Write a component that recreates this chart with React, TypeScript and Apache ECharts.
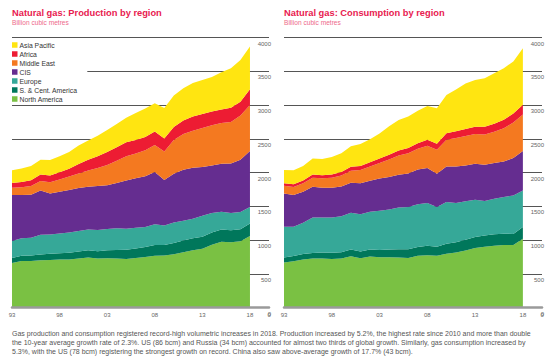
import React, { useEffect, useRef } from "react";
import * as echarts from "echarts";

const years = [1993, 1994, 1995, 1996, 1997, 1998, 1999, 2000, 2001, 2002, 2003, 2004, 2005, 2006, 2007, 2008, 2009, 2010, 2011, 2012, 2013, 2014, 2015, 2016, 2017, 2018];
// two empty slots after 2018 so that the gridlines run on under the value labels
const paddingSlots = ["", ""];

const regions = ["North America", "S. & Cent. America", "Europe", "CIS", "Middle East", "Africa", "Asia Pacific"];
const legendOrder = ["Asia Pacific", "Africa", "Middle East", "CIS", "Europe", "S. & Cent. America", "North America"];
const regionColors = ["#7AC143", "#00775B", "#36A898", "#652D90", "#F47920", "#ED1C33", "#FFE511"];

// Production (billion cubic metres)
const prodNorthAmerica = [660, 690, 690, 700, 705, 710, 710, 725, 740, 725, 730, 725, 720, 735, 750, 765, 770, 790, 820, 848, 870, 930, 975, 965, 980, 1058];
const prodSCAmerica = [75, 78, 80, 86, 90, 95, 100, 105, 107, 110, 118, 128, 135, 140, 148, 160, 155, 165, 172, 178, 180, 180, 182, 180, 180, 185];
const prodEurope = [250, 258, 265, 290, 285, 290, 300, 305, 310, 312, 315, 320, 312, 305, 295, 310, 290, 305, 295, 290, 310, 290, 260, 255, 255, 247];
const prodCIS = [680, 640, 635, 659, 610, 620, 630, 635, 633, 653, 649, 672, 713, 735, 752, 771, 675, 720, 753, 754, 722, 705, 711, 732, 775, 828];
const prodMiddleEast = [110, 115, 130, 140, 165, 180, 200, 215, 240, 265, 300, 330, 360, 365, 385, 400, 420, 500, 530, 550, 578, 595, 607, 618, 655, 682];
const prodAfrica = [71, 80, 85, 95, 100, 110, 115, 140, 160, 175, 190, 200, 210, 200, 195, 200, 195, 195, 200, 210, 205, 205, 200, 210, 205, 235];
const prodAsiaPacific = [189, 200, 210, 220, 230, 235, 250, 275, 285, 305, 328, 345, 360, 400, 425, 420, 450, 465, 480, 495, 505, 510, 550, 585, 618, 631];

// Consumption (billion cubic metres)
const consNorthAmerica = [666, 686, 711, 725, 725, 718, 725, 760, 730, 755, 745, 745, 740, 735, 765, 775, 765, 795, 815, 845, 880, 900, 915, 925, 925, 1020];
const consSCAmerica = [75, 77, 80, 84, 88, 92, 95, 98, 100, 104, 108, 115, 122, 128, 133, 138, 135, 148, 150, 160, 165, 168, 170, 168, 165, 172];
const consEurope = [454, 432, 463, 524, 520, 523, 533, 544, 552, 558, 579, 592, 619, 626, 630, 635, 589, 620, 583, 568, 552, 510, 527, 544, 571, 543];
const consCIS = [495, 470, 460, 456, 440, 440, 440, 445, 460, 462, 478, 480, 485, 495, 515, 518, 493, 527, 542, 532, 533, 537, 528, 527, 553, 582];
const consMiddleEast = [113, 120, 125, 135, 140, 148, 163, 180, 195, 209, 230, 260, 285, 300, 310, 330, 355, 395, 420, 435, 440, 449, 465, 493, 525, 542];
const consAfrica = [38, 40, 42, 45, 47, 50, 53, 57, 60, 64, 68, 72, 75, 78, 80, 88, 90, 95, 100, 105, 108, 112, 118, 125, 135, 145];
const consAsiaPacific = [195, 210, 215, 240, 240, 260, 275, 305, 325, 340, 370, 420, 450, 468, 480, 500, 525, 570, 620, 675, 694, 719, 747, 763, 771, 838];

const yTicks = [0, 500, 1000, 1500, 2000, 2500, 3000, 3500, 4000];

const titles = ["Natural gas: Production by region", "Natural gas: Consumption by region"];
const unitLabel = "Billion cubic metres";
const captionLines = [
  "Gas production and consumption registered record-high volumetric increases in 2018. Production increased by 5.2%, the highest rate since 2010 and more than double",
  "the 10-year average growth rate of 2.3%. US (86 bcm) and Russia (34 bcm) accounted for almost two thirds of global growth. Similarly, gas consumption increased by",
  "5.3%, with the US (78 bcm) registering the strongest growth on record. China also saw above-average growth of 17.7% (43 bcm).",
];

const FONT = "'Liberation Sans', Arial, Helvetica, sans-serif";

export default function App() {
  const ref = useRef<HTMLDivElement>(null);

  useEffect(() => {
    if (!ref.current) return;
    const chart = echarts.init(ref.current, null, { renderer: "svg" });

    const prodSets = [prodNorthAmerica, prodSCAmerica, prodEurope, prodCIS, prodMiddleEast, prodAfrica, prodAsiaPacific];
    const consSets = [consNorthAmerica, consSCAmerica, consEurope, consCIS, consMiddleEast, consAfrica, consAsiaPacific];

    const makeSeries = (sets: number[][], idx: number) =>
      sets.map((arr, r) => ({
        name: regions[r],
        type: "line",
        xAxisIndex: idx,
        yAxisIndex: idx,
        stack: "s" + idx,
        symbol: "none",
        lineStyle: { width: 0 },
        areaStyle: { color: regionColors[r], opacity: 1 },
        itemStyle: { color: regionColors[r] },
        data: arr.slice(),
      }));

    const categories = [...years.map(String), ...paddingSlots];

    const grids = [
      { left: 12, top: 37.5, width: 257, height: 270 },
      { left: 284, top: 37.5, width: 258, height: 270 },
    ];

    const xAxes = [0, 1].map((g) => ({
      type: "category",
      gridIndex: g,
      data: categories,
      boundaryGap: false,
      z: 3,
      axisLine: { show: true, lineStyle: { color: "#9a9a9a", width: 2.5 } },
      axisTick: { show: false },
      splitLine: { show: false },
      axisLabel: {
        interval: 4,
        fontSize: 6,
        color: "#666",
        fontFamily: FONT,
        margin: 4.5,
        formatter: (v: string) => (v ? v.slice(2) : ""),
      },
    }));

    const yAxes = [0, 1].map((g) => ({
      type: "value",
      gridIndex: g,
      position: "right",
      min: yTicks[0],
      max: yTicks[yTicks.length - 1],
      interval: yTicks[1] - yTicks[0],
      axisLine: { show: false },
      axisTick: { show: false },
      splitLine: { show: true, lineStyle: { color: "#555", width: 1 } },
      axisLabel: {
        inside: false,
        margin: 2,
        align: "right",
        verticalAlign: "top",
        padding: [3, 0, 0, 0],
        fontSize: 6,
        color: "#666",
        fontFamily: FONT,
        showMinLabel: true,
        showMaxLabel: true,
        hideOverlap: false,
        formatter: (v: number) => String(v),
      },
    }));

    // the "0" value label sits under the baseline at the right end of each chart
    const zeroLabelLeft = [267.5, 540.5];

    chart.setOption({
      animation: false,
      backgroundColor: "#fff",
      title: [0, 1].map((g) => ({
        text: titles[g],
        subtext: unitLabel,
        left: g === 0 ? 12 : 284,
        top: 8,
        padding: 0,
        itemGap: 2,
        textStyle: { fontSize: 9.3, fontWeight: "bold", color: "#E8204F", fontFamily: FONT },
        subtextStyle: { fontSize: 6.6, color: "#EE6A8A", fontFamily: FONT },
      })),
      legend: {
        orient: "vertical",
        left: 12,
        top: 40,
        data: legendOrder,
        icon: "rect",
        itemWidth: 5.5,
        itemHeight: 5.5,
        itemGap: 1,
        padding: [1, 10, 0, 0],
        backgroundColor: "#fff",
        selectedMode: false,
        textStyle: { fontSize: 6.8, color: "#333", fontFamily: FONT, lineHeight: 8, padding: [0, 0, 0, -3] },
      },
      grid: grids,
      xAxis: xAxes,
      yAxis: yAxes,
      series: [...makeSeries(prodSets, 0), ...makeSeries(consSets, 1)],
      graphic: [
        ...zeroLabelLeft.map((l) => ({
          type: "text",
          left: l,
          top: 311.5,
          z: 100,
          style: {
            text: "" + yTicks[0],
            fontSize: 6,
            fill: "#666",
            fontFamily: FONT,
          },
        })),
        {
          type: "text",
          left: 12,
          top: 328.5,
          style: {
            text: captionLines.join("\n"),
            fontSize: 7,
            lineHeight: 9,
            fill: "#555",
            fontFamily: FONT,
          },
        },
      ],
    });

    return () => chart.dispose();
  }, []);

  return <div ref={ref} style={{ position: "absolute", left: 0, top: 0, width: 557, height: 358 }} />;
}
